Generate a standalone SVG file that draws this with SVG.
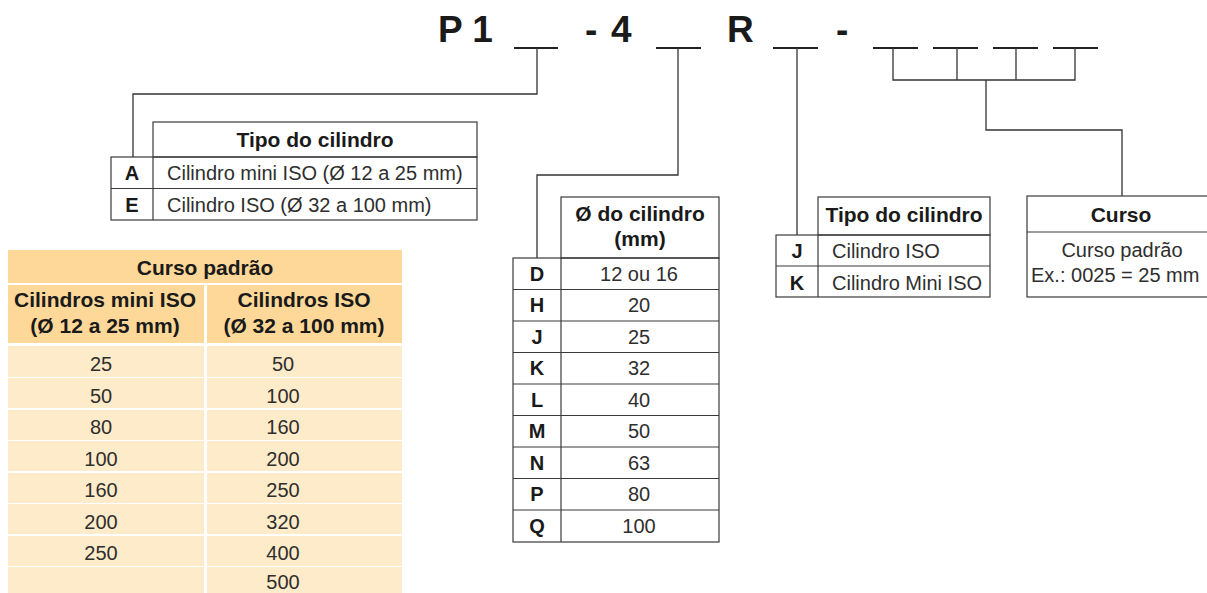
<svg xmlns="http://www.w3.org/2000/svg" width="1207" height="593" viewBox="0 0 1207 593">
<style>
.t{font-family:"Liberation Sans",Arial,sans-serif;fill:#2e2e2e}
.b{font-weight:bold;fill:#1a1a1a}
.h{font-size:37px;font-weight:bold;fill:#1a1a1a;font-family:"Liberation Sans",Arial,sans-serif}
.s20{font-size:20px}
.s21{font-size:21px}
.m{text-anchor:middle}
.grid{fill:none;stroke:#3a3a3a;stroke-width:1.2}
.con{fill:none;stroke:#333;stroke-width:1.3}
.us{stroke:#222;stroke-width:2.2}
.oh{fill:#FDD898}
.od{fill:#FEEBC9}
</style>
<rect width="1207" height="593" fill="#fff"/>
<g id="code">
<text class="h" x="438" y="42">P 1</text>
<text class="h" x="585" y="42">-</text>
<text class="h" x="611" y="42">4</text>
<text class="h" x="727" y="42">R</text>
<text class="h" x="836" y="42">-</text>
<g class="us">
<line x1="514" y1="48" x2="558" y2="48"/>
<line x1="656" y1="48" x2="701" y2="48"/>
<line x1="773" y1="48" x2="818" y2="48"/>
<line x1="873" y1="48" x2="918" y2="48"/>
<line x1="933" y1="48" x2="978" y2="48"/>
<line x1="993" y1="48" x2="1038" y2="48"/>
<line x1="1053" y1="48" x2="1098" y2="48"/>
</g>
</g>
<g id="connectors" class="con">
<path d="M537,48 V94 H133 V157"/>
<path d="M678,48 V175 H537 V258"/>
<path d="M797,48 V235"/>
<path d="M893,48 V80 H1075 V48"/>
<path d="M957,48 V80"/>
<path d="M1016,48 V80"/>
<path d="M986,80 V130 H1122 V196"/>
</g>
<g id="tipo-table-1">
<rect class="grid" x="153" y="122" width="324" height="35"/>
<rect class="grid" x="111" y="157" width="366" height="63"/>
<line class="grid" x1="111" y1="188.5" x2="477" y2="188.5"/>
<line class="grid" x1="153" y1="157" x2="153" y2="220"/>
<text class="t b s21 m" x="315" y="147">Tipo do cilindro</text>
<text class="t b s20 m" x="132" y="180">A</text>
<text class="t s20" x="167" y="180">Cilindro mini ISO (Ø 12 a 25 mm)</text>
<text class="t b s20 m" x="132" y="212">E</text>
<text class="t s20" x="167" y="212">Cilindro ISO (Ø 32 a 100 mm)</text>
</g>
<g id="diam-table">
<rect class="grid" x="561" y="197" width="158" height="61"/>
<rect class="grid" x="513" y="258" width="206" height="284"/>
<line class="grid" x1="561" y1="258" x2="561" y2="542"/>
<g class="grid">
<line x1="513" y1="289.5" x2="719" y2="289.5"/>
<line x1="513" y1="321" x2="719" y2="321"/>
<line x1="513" y1="352.5" x2="719" y2="352.5"/>
<line x1="513" y1="384" x2="719" y2="384"/>
<line x1="513" y1="415.5" x2="719" y2="415.5"/>
<line x1="513" y1="447" x2="719" y2="447"/>
<line x1="513" y1="478.5" x2="719" y2="478.5"/>
<line x1="513" y1="510" x2="719" y2="510"/>
</g>
<text class="t b s21 m" x="640" y="221">Ø do cilindro</text>
<text class="t b s21 m" x="640" y="246">(mm)</text>
<g class="t b s20 m">
<text x="537" y="281">D</text>
<text x="537" y="312">H</text>
<text x="537" y="344">J</text>
<text x="537" y="375">K</text>
<text x="537" y="407">L</text>
<text x="537" y="438">M</text>
<text x="537" y="470">N</text>
<text x="537" y="501">P</text>
<text x="537" y="533">Q</text>
</g>
<g class="t s20 m">
<text x="639" y="281">12 ou 16</text>
<text x="639" y="312">20</text>
<text x="639" y="344">25</text>
<text x="639" y="375">32</text>
<text x="639" y="407">40</text>
<text x="639" y="438">50</text>
<text x="639" y="470">63</text>
<text x="639" y="501">80</text>
<text x="639" y="533">100</text>
</g>
</g>
<g id="tipo-table-2">
<rect class="grid" x="818" y="197" width="172" height="38"/>
<rect class="grid" x="776" y="235" width="214" height="62"/>
<line class="grid" x1="776" y1="266" x2="990" y2="266"/>
<line class="grid" x1="818" y1="235" x2="818" y2="297"/>
<text class="t b s21 m" x="904" y="222">Tipo do cilindro</text>
<text class="t b s20 m" x="797" y="258">J</text>
<text class="t s20" x="832" y="258">Cilindro ISO</text>
<text class="t b s20 m" x="797" y="290">K</text>
<text class="t s20" x="832" y="290">Cilindro Mini ISO</text>
</g>
<g id="curso-box">
<rect class="grid" x="1027" y="196" width="200" height="101"/>
<line class="grid" x1="1027" y1="232" x2="1227" y2="232"/>
<text class="t b s21 m" x="1121" y="222">Curso</text>
<text class="t s20 m" x="1122" y="257">Curso padrão</text>
<text class="t s20" x="1031" y="282">Ex.: 0025 = 25 mm</text>
</g>
<g id="curso-padrao-table">
<rect class="oh" x="8" y="250" width="394" height="33"/>
<rect class="oh" x="8" y="285" width="196" height="58"/>
<rect class="oh" x="207" y="285" width="195" height="58"/>
<g class="od">
<rect x="8" y="346" width="196" height="31"/><rect x="207" y="346" width="195" height="31"/>
<rect x="8" y="378" width="196" height="30"/><rect x="207" y="378" width="195" height="30"/>
<rect x="8" y="410" width="196" height="30"/><rect x="207" y="410" width="195" height="30"/>
<rect x="8" y="441" width="196" height="30"/><rect x="207" y="441" width="195" height="30"/>
<rect x="8" y="473" width="196" height="30"/><rect x="207" y="473" width="195" height="30"/>
<rect x="8" y="504" width="196" height="30"/><rect x="207" y="504" width="195" height="30"/>
<rect x="8" y="536" width="196" height="30"/><rect x="207" y="536" width="195" height="30"/>
<rect x="8" y="567" width="196" height="26"/><rect x="207" y="567" width="195" height="26"/>
</g>
<text class="t b s21 m" x="205" y="275">Curso padrão</text>
<text class="t b s21 m" x="105" y="307">Cilindros mini ISO</text>
<text class="t b s21 m" x="105" y="333">(Ø 12 a 25 mm)</text>
<text class="t b s21 m" x="304" y="307">Cilindros ISO</text>
<text class="t b s21 m" x="304" y="333">(Ø 32 a 100 mm)</text>
<g class="t s20 m">
<text x="101" y="371">25</text><text x="283" y="371">50</text>
<text x="101" y="403">50</text><text x="283" y="403">100</text>
<text x="101" y="434">80</text><text x="283" y="434">160</text>
<text x="101" y="466">100</text><text x="283" y="466">200</text>
<text x="101" y="497">160</text><text x="283" y="497">250</text>
<text x="101" y="529">200</text><text x="283" y="529">320</text>
<text x="101" y="560">250</text><text x="283" y="560">400</text>
<text x="283" y="589">500</text>
</g>
</g>
</svg>
